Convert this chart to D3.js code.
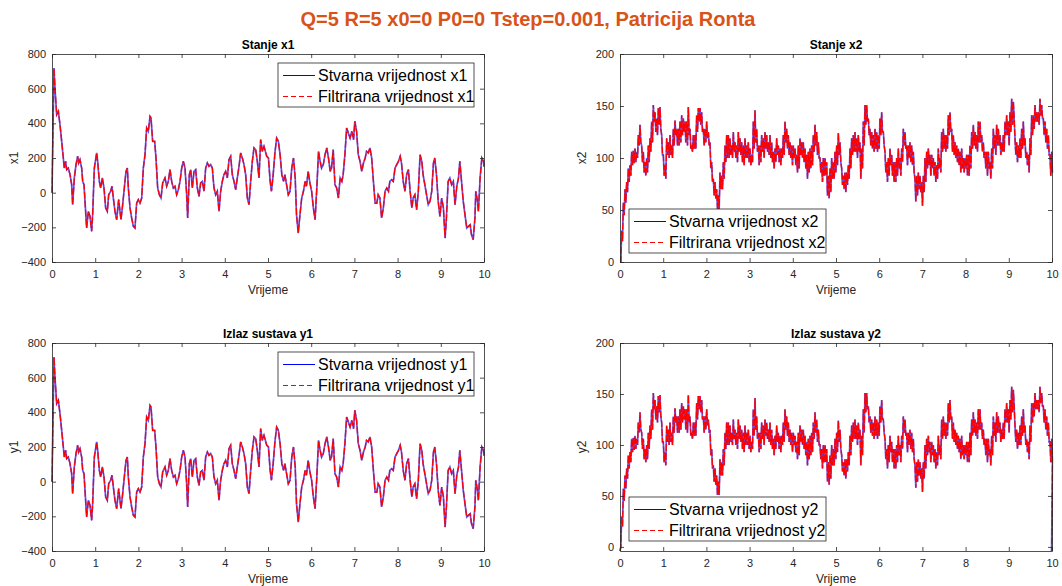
<!DOCTYPE html>
<html>
<head>
<meta charset="utf-8">
<script src="https://cdn.jsdelivr.net/npm/d3@7"></script>
<style>
  body { margin: 0; background: #fff; }
  text { font-family: "Liberation Sans", Arial, Helvetica, sans-serif; }
</style>
</head>
<body>
<div id="chart"></div>
<script>
// Filtered curves sit right on top of the true ones,
// and the outputs y1 / y2 look the same as the states x1 / x2.

// x1 state: [time, value]
const x1Data = [
  [0,0],[0.046,719],[0.069,604],[0.108,450],[0.147,469],[0.185,392],[0.224,296],[0.262,200],[0.285,142],[0.316,181],
  [0.340,133],[0.378,142],[0.417,104],[0.455,46],[0.478,-69],[0.517,85],[0.556,162],[0.594,210],[0.617,171],[0.648,190],
  [0.687,142],[0.710,65],[0.741,46],[0.764,-50],[0.802,-204],[0.841,-108],[0.880,-137],[0.918,-223],[0.941,-127],[0.980,142],
  [1.034,229],[1.057,181],[1.096,65],[1.127,27],[1.165,85],[1.204,27],[1.242,-88],[1.281,-108],[1.312,-12],[1.358,8],
  [1.389,37],[1.420,-31],[1.458,-108],[1.497,-156],[1.543,-40],[1.574,-108],[1.597,-156],[1.636,-69],[1.674,27],[1.713,123],
  [1.744,142],[1.767,27],[1.806,-88],[1.844,-146],[1.883,-194],[1.921,-204],[1.960,-60],[1.998,-40],[2.037,-60],[2.076,-31],
  [2.114,142],[2.153,219],[2.191,373],[2.230,354],[2.269,440],[2.292,431],[2.330,296],[2.377,296],[2.407,200],[2.446,27],
  [2.485,-12],[2.523,-31],[2.562,56],[2.616,85],[2.654,37],[2.693,65],[2.731,133],[2.770,65],[2.809,27],[2.847,37],
  [2.886,-12],[2.924,17],[2.963,65],[3.002,142],[3.040,181],[3.079,142],[3.117,-12],[3.140,-146],[3.179,104],[3.210,133],
  [3.248,27],[3.287,123],[3.326,133],[3.364,27],[3.403,-21],[3.441,56],[3.480,65],[3.519,8],[3.557,142],[3.596,171],
  [3.634,152],[3.673,162],[3.711,142],[3.750,27],[3.789,-12],[3.827,8],[3.866,-108],[3.904,8],[3.943,65],[3.981,104],
  [4.020,123],[4.059,85],[4.097,190],[4.136,210],[4.174,104],[4.213,65],[4.252,17],[4.290,85],[4.329,152],[4.367,229],
  [4.406,200],[4.444,162],[4.483,104],[4.522,-31],[4.560,-69],[4.599,65],[4.637,181],[4.676,258],[4.715,248],[4.753,181],
  [4.792,85],[4.830,306],[4.869,238],[4.907,267],[4.97,210],[5.01,200],[5.05,65],[5.08,8],[5.12,104],[5.16,229],
  [5.20,315],[5.24,296],[5.28,219],[5.32,104],[5.36,65],[5.39,104],[5.43,46],[5.47,-12],[5.51,8],[5.55,142],
  [5.59,200],[5.63,85],[5.66,-127],[5.70,-233],[5.74,-127],[5.78,-31],[5.82,8],[5.86,65],[5.89,37],[5.93,123],
  [5.97,56],[6.01,8],[6.05,-88],[6.09,-156],[6.13,27],[6.17,238],[6.20,190],[6.24,142],[6.28,162],[6.32,219],
  [6.36,258],[6.40,200],[6.44,123],[6.47,142],[6.51,248],[6.55,46],[6.59,27],[6.63,-31],[6.67,85],[6.71,65],
  [6.74,104],[6.78,219],[6.82,373],[6.86,344],[6.90,315],[6.94,354],[6.98,306],[7.01,412],[7.05,354],[7.09,219],
  [7.13,181],[7.17,123],[7.21,171],[7.25,200],[7.28,238],[7.32,229],[7.36,258],[7.40,200],[7.44,65],[7.48,-60],
  [7.52,-60],[7.55,-12],[7.59,-31],[7.63,-146],[7.67,-88],[7.71,8],[7.75,27],[7.79,8],[7.82,65],[7.86,75],
  [7.90,65],[7.94,142],[7.98,162],[8.02,181],[8.06,210],[8.09,171],[8.13,65],[8.17,8],[8.21,104],[8.25,133],
  [8.29,8],[8.33,-88],[8.36,-31],[8.40,-12],[8.44,-98],[8.48,8],[8.52,219],[8.56,181],[8.59,104],[8.63,46],
  [8.67,-12],[8.71,-69],[8.75,-50],[8.79,8],[8.83,171],[8.86,200],[8.90,104],[8.94,-50],[8.98,-137],[9.02,-31],
  [9.06,-88],[9.10,-262],[9.13,-146],[9.17,65],[9.21,85],[9.25,46],[9.29,65],[9.33,-69],[9.37,37],[9.41,85],
  [9.44,181],[9.48,65],[9.52,-50],[9.56,-127],[9.60,-204],[9.64,-194],[9.68,-185],[9.71,-242],[9.75,-271],[9.79,-146],
  [9.81,8],[9.85,-50],[9.87,-108],[9.91,85],[9.95,200],[9.99,181],[10,150]
];

// x2 state is a noisy band: upper and lower edge, sampled every x2Step
const x2Step = 0.03858;
const x2High = [
  0,30,57,70,77,90,93,106,107,109, 106,122,132,112,106,96,100,112,119,135,
  151,144,138,148,149,122,103,93,119,115, 122,112,128,136,128,128,135,141,138,135,
  135,149,128,112,122,122,141,148,148,144, 128,128,135,125,115,96,80,77,70,64,
  86,83,96,112,122,122,119,112,125,115, 112,125,119,115,112,119,112,115,109,103,
  135,146,128,112,112,122,119,125,122,115, 122,115,106,109,119,112,109,109,122,135,
  128,122,115,112,112,109,103,112,119,115, 115,109,103,106,109,112,122,132,125,115,
  100,96,100,100,96,83,90,100,96,
  106,112,124,115,90,83,86,86,93,109, 119,122,125,119,122,115,109,135,151,151,
  138,128,125,122,128,125,122,138,144,125, 106,96,100,109,103,96,96,100,109,100,
  109,128,125,112,112,115,112,106,80,83, 86,83,77,83,100,106,109,103,103,100,
  96,93,109,100,125,128,122,122,141,144, 128,122,115,112,109,106,109,100,100,103,
  103,112,125,132,125,122,135,135,122,115, 106,106,106,96,109,128,122,132,128,122,
  115,122,135,141,135,144,157,154,119,115, 112,119,128,135,119,106,103,119,141,141,
  151,144,144,157,151,138,135,128,122,103, 106
];
const x2Low = [
  0,20,45,57,67,77,83,93,95,96, 100,112,115,96,86,83,86,96,106,115,
  135,125,122,132,128,103,83,80,103,100, 103,100,112,122,112,112,115,122,125,115,
  112,122,109,106,109,109,125,135,132,125, 112,115,119,112,90,77,64,61,51,51,
  70,70,80,96,100,100,103,100,106,100, 96,106,103,96,93,100,100,96,93,96,
  109,115,106,93,96,106,100,109,106,103, 100,96,90,96,103,96,93,100,103,115,
  109,103,100,93,100,93,86,90,103,100, 96,90,80,86,90,93,106,112,103,100,
  86,77,83,83,64,61,67,80,80,
  86,93,103,96,74,70,67,74,80,90, 103,106,106,100,106,80,90,112,132,135,
  122,112,109,106,109,106,109,122,125,112, 86,77,83,93,83,77,77,83,90,83,
  96,112,109,93,100,96,93,86,58,64, 70,67,54,67,77,90,93,83,90,83,
  77,80,90,86,106,109,106,109,122,125, 106,103,100,96,93,86,90,86,90,83,
  83,90,109,112,109,106,115,115,106,100, 90,83,90,80,90,109,103,112,112,103,
  106,106,122,122,112,125,132,138,103,96, 100,100,109,112,100,93,86,103,122,128,
  135,135,132,141,138,122,115,109,103,83, 86
];
const x2End = 95;
// y2 reads like x2 but starts and ends a little below zero
const y2StartEnd = [-4, -4];

const xTicks = [0, 1, 2, 3, 4, 5, 6, 7, 8, 9, 10];
const yTicks1 = [-400, -200, 0, 200, 400, 600, 800];
const yTicks2 = [0, 50, 100, 150, 200];

// build the zigzag band path for x2 / y2
function bandPoints(start, end) {
  const pts = [[0, start]];
  x2High.forEach((h, i) => {
    const t = i * x2Step;
    if (i > 0) pts.push([t, h]);
    pts.push([t + x2Step / 2, x2Low[i]]);
  });
  pts.push([9.99, end]);
  return pts;
}
const x2Data = bandPoints(0, x2End);
const y2Data = bandPoints(y2StartEnd[0], y2StartEnd[1]);

const W = 432, H = 208;
const axisColor = "#262626";

const svg = d3.select("#chart").append("svg")
  .attr("width", 1062)
  .attr("height", 586)
  .style("display", "block");

svg.append("rect").attr("width", 1062).attr("height", 586).attr("fill", "#fff");

svg.append("text")
  .attr("x", 528)
  .attr("y", 26)
  .attr("text-anchor", "middle")
  .attr("font-size", "20px")
  .attr("font-weight", "bold")
  .attr("fill", "#D95319")
  .text("Q=5 R=5 x0=0 P0=0 Tstep=0.001, Patricija Ronta");

const panels = [
  { id: "p1", left: 52, top: 54, yDomain: [-400, 800], yTicks: yTicks1, data: x1Data,
    title: "Stanje x1", ylabel: "x1", legend: { x: 226, y: 9, w: 196 } },
  { id: "p2", left: 620, top: 54, yDomain: [0, 200], yTicks: yTicks2, data: x2Data,
    title: "Stanje x2", ylabel: "x2", legend: { x: 9, y: 155, w: 197 } },
  { id: "p3", left: 52, top: 343, yDomain: [-400, 800], yTicks: yTicks1, data: x1Data,
    title: "Izlaz sustava y1", ylabel: "y1", legend: { x: 226, y: 9, w: 196 } },
  { id: "p4", left: 620, top: 343, yDomain: [-4, 200], yTicks: yTicks2, data: y2Data,
    title: "Izlaz sustava y2", ylabel: "y2", legend: { x: 9, y: 154, w: 197 } }
];

panels.forEach(p => drawPanel(p));

function drawPanel(p) {
  const g = svg.append("g").attr("transform", `translate(${p.left},${p.top})`);

  const x = d3.scaleLinear().domain([0, 10]).range([0, W]);
  const y = d3.scaleLinear().domain(p.yDomain).range([H, 0]);

  g.append("rect").attr("width", W).attr("height", H).attr("fill", "#fff");

  // clip a bit wider so the lines at t=0 and t=10 still show next to the axes
  g.append("clipPath").attr("id", p.id + "-clip")
    .append("rect").attr("x", -1.5).attr("y", -1).attr("width", W + 3).attr("height", H + 2);

  const line = d3.line().x(d => x(d[0])).y(d => y(d[1]));
  const plot = g.append("g").attr("clip-path", `url(#${p.id}-clip)`);

  // true value (blue) then filtered (red dashed) on top
  plot.append("path")
    .datum(p.data)
    .attr("fill", "none")
    .attr("stroke", "#3b3bff")
    .attr("stroke-width", 1.7)
    .attr("stroke-opacity", 0.85)
    .attr("d", line);

  plot.append("path")
    .datum(p.data)
    .attr("fill", "none")
    .attr("stroke", "#ff0000")
    .attr("stroke-width", 1.3)
    .attr("stroke-dasharray", "7,2")
    .attr("d", line);

  // axes, ticks pointing inwards on all four sides
  const bottom = g.append("g").attr("transform", `translate(0,${H})`)
    .call(d3.axisBottom(x).tickValues(xTicks).tickSize(-4).tickSizeOuter(0).tickPadding(8));
  const top = g.append("g")
    .call(d3.axisTop(x).tickValues(xTicks).tickSize(-4).tickSizeOuter(0).tickFormat(""));
  const left = g.append("g")
    .call(d3.axisLeft(y).tickValues(p.yTicks).tickSize(-4).tickSizeOuter(0).tickPadding(6));
  const right = g.append("g").attr("transform", `translate(${W},0)`)
    .call(d3.axisRight(y).tickValues(p.yTicks).tickSize(-4).tickSizeOuter(0).tickFormat(""));

  [bottom, top, left, right].forEach(a => {
    a.attr("font-family", null).attr("font-size", null);
    a.selectAll("path, line").attr("stroke", axisColor).attr("stroke-width", 0.8);
    a.selectAll("text").attr("fill", axisColor).attr("font-size", "11px");
  });

  // titles and labels
  g.append("text")
    .attr("x", W / 2)
    .attr("y", -5)
    .attr("text-anchor", "middle")
    .attr("font-size", "12px")
    .attr("font-weight", "bold")
    .attr("fill", "#000")
    .text(p.title);

  g.append("text")
    .attr("x", W / 2)
    .attr("y", H + 32)
    .attr("text-anchor", "middle")
    .attr("font-size", "12px")
    .attr("fill", axisColor)
    .text("Vrijeme");

  g.append("text")
    .attr("transform", `translate(-34,${H / 2}) rotate(-90)`)
    .attr("text-anchor", "middle")
    .attr("font-size", "12px")
    .attr("fill", axisColor)
    .text(p.ylabel);

  // legend box
  const lg = g.append("g").attr("transform", `translate(${p.legend.x},${p.legend.y})`);
  lg.append("rect")
    .attr("width", p.legend.w)
    .attr("height", 44)
    .attr("fill", "#fff")
    .attr("stroke", axisColor)
    .attr("stroke-width", 0.8);

  const entries = [
    { label: "Stvarna vrijednost " + p.ylabel, color: "#0000ff", dash: null },
    { label: "Filtrirana vrijednost " + p.ylabel, color: "#ff0000", dash: "5,3" }
  ];

  entries.forEach((e, i) => {
    const ry = 12.5 + i * 21;
    lg.append("line")
      .attr("x1", 5).attr("x2", 37)
      .attr("y1", ry).attr("y2", ry)
      .attr("stroke", e.color)
      .attr("stroke-width", 1)
      .attr("stroke-dasharray", e.dash);
    lg.append("text")
      .attr("x", 40)
      .attr("y", ry)
      .attr("dy", "0.35em")
      .attr("font-size", "16px")
      .attr("fill", "#000")
      .text(e.label);
  });
}
</script>
</body>
</html>
